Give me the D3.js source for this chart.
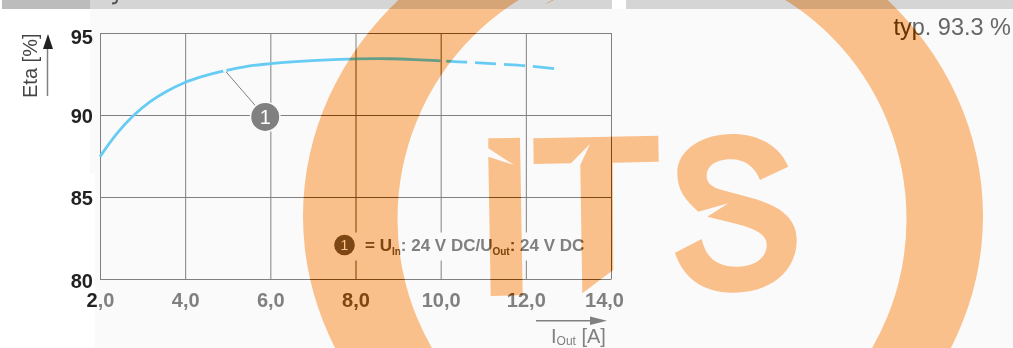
<!DOCTYPE html>
<html>
  <head>
    <title>Efficiency curve</title>
    <script src="https://d3js.org/d3.v7.min.js"></script>
    <style>
      body {
        margin: 0;
        background: #fff;
      }
      svg {
        display: block;
        font-family: "Liberation Sans", Arial, sans-serif;
      }
      .tick line,
      .domain {
        stroke: #808080;
      }
      .tick text {
        font-size: 20px;
        font-weight: bold;
        font-family: "Liberation Sans", Arial, sans-serif;
      }
    </style>
  </head>
  <body>
    <div id="chart"></div>

    <script>
      // Values
      const xTicks = [2, 4, 6, 8, 10, 12, 14];
      const xTickLabels = ["2,0", "4,0", "6,0", "8,0", "10,0", "12,0", "14,0"];
      const yTicks = [80, 85, 90, 95];

      // load current [A] / efficiency [%]
      const solidCurrent = [2.0, 2.39, 2.78, 3.17, 3.57, 3.98, 4.43, 4.86, 5.45, 6.0, 6.69, 7.63, 8.0, 8.8, 9.4, 10.0];
      const solidEta = [87.46, 88.85, 89.95, 90.8, 91.45, 91.97, 92.37, 92.66, 92.97, 93.13, 93.27, 93.39, 93.42, 93.43, 93.38, 93.3];
      const dashedCurrent = [10.13, 10.6, 11.2, 12.0, 12.7];
      const dashedEta = [93.28, 93.22, 93.13, 93.0, 92.82];

      const calloutPoint = [4.93, 92.72];
      const calloutBadge = [5.88, 89.88];

      const width = 1013;
      const height = 348;
      const plot = { left: 100, right: 611, top: 33, bottom: 279 };

      const x = d3.scaleLinear().domain([2, 14]).range([plot.left, plot.right]);
      const y = d3.scaleLinear().domain([80, 95]).range([plot.bottom, plot.top]);

      const svg = d3
        .select("#chart")
        .append("svg")
        .attr("width", width)
        .attr("height", height);

      // Watermark outline: ring and the three letters
      function ellipsePath(cx, cy, rx, ry) {
        return (
          `M${cx - rx},${cy}A${rx},${ry} 0 1 0 ${cx + rx},${cy}` +
          `A${rx},${ry} 0 1 0 ${cx - rx},${cy}Z`
        );
      }
      const letterI =
        "M488.3,138.3L520,137.7L522.7,295L490.7,296L488.3,156.7L514,165L488.3,148.3Z";
      const letterT =
        "M533.3,138.3L658.3,135.7L658.7,161.7L612.7,162.7L613.3,270L582.3,293.3L580.3,165L590,144L571,163.3L533.7,164Z";
      const letterS =
        "M788.3,166.7L760,180C755,167 745,159.3 731,159.3C716,159.3 706.7,166 706.7,176" +
        "C706.7,184 713,187.5 722,190L748,197C775,204 796.7,215 796.7,240" +
        "C796.7,270 772,292.7 733,292.7C700,292.7 682,275 675,252.7L701.7,239" +
        "C706,258 717,266.7 737,266.7C756,266.7 766.7,257 766.7,245" +
        "C766.7,233 752,228 735,223.5L707.3,216.7L728.3,203.3L698.3,211.7" +
        "C685,200 677.3,190 677.3,173C677.3,148 705,134 732,134C760,134 780,147 788.3,166.7Z";
      const sliver = "M545,4L552,0L554,0L548,3Z";
      const watermark =
        ellipsePath(643, 216, 340, 311) +
        ellipsePath(652, 219, 254.5, 257) +
        letterI + letterT + letterS + sliver;

      const defs = svg.append("defs");
      defs
        .append("clipPath")
        .attr("id", "wmClip")
        .append("path")
        .attr("d", watermark)
        .attr("clip-rule", "evenodd");
      // darkens the ink where it sits under the orange, page colour stays neutral
      defs
        .append("filter")
        .attr("id", "burn")
        .attr("color-interpolation-filters", "sRGB")
        .append("feColorMatrix")
        .attr("type", "matrix")
        .attr(
          "values",
          "0.04 0 0 0 0.961  0 0.58 0 0 0.4316  0 0 1.48 0 -0.4504  0 0 0 1 0"
        );

      // Page background and the cut off header bars
      svg.append("rect").attr("x", 90).attr("y", 9).attr("width", width - 90).attr("height", 165).attr("fill", "#fafafa");
      svg.append("rect").attr("x", 95).attr("y", 174).attr("width", width - 95).attr("height", 174).attr("fill", "#fafafa");
      svg.append("rect").attr("x", 2).attr("y", 0).attr("width", 88).attr("height", 9).attr("fill", "#bcbcbc");
      svg.append("rect").attr("x", 90).attr("y", 0).attr("width", 522).attr("height", 9).attr("fill", "#d5d5d5");
      svg.append("rect").attr("x", 626).attr("y", 0).attr("width", 387).attr("height", 9).attr("fill", "#d5d5d5");
      svg
        .append("path")
        .attr("d", "M117,0C117,3 115,3.5 112,3.5")
        .attr("fill", "none")
        .attr("stroke", "#555")
        .attr("stroke-width", 2);

      const ink = svg.append("g").attr("id", "ink");

      // Axes double as the grid
      const yAxis = ink
        .append("g")
        .attr("transform", `translate(${plot.left},0)`)
        .call(
          d3
            .axisLeft(y)
            .tickValues(yTicks)
            .tickSizeInner(-(plot.right - plot.left))
            .tickSizeOuter(0)
            .tickPadding(7)
        );
      yAxis
        .selectAll(".tick text")
        .attr("fill", "#222")
        .attr("dy", (d) => (d === 95 ? "0.53em" : d === 80 ? "0.4em" : "0.38em"));

      const xAxis = ink
        .append("g")
        .attr("transform", `translate(0,${plot.bottom})`)
        .call(
          d3
            .axisBottom(x)
            .tickValues(xTicks)
            .tickFormat((d, i) => xTickLabels[i])
            .tickSizeInner(-(plot.bottom - plot.top))
            .tickSizeOuter(0)
            .tickPadding(13.5)
        );
      xAxis
        .selectAll(".tick text")
        .attr("fill", "#808080")
        .attr("dx", (d) => (d === 14 ? -7 : 0));
      // the "2" of the first tick is printed dark
      xAxis
        .selectAll(".tick text")
        .filter((d) => d === 2)
        .text(null)
        .call((t) => {
          t.append("tspan").attr("fill", "#222").text(xTickLabels[0][0]);
          t.append("tspan").text(xTickLabels[0].slice(1));
        });

      // Axis titles with arrows
      ink
        .append("text")
        .attr("transform", "translate(36.5,98) rotate(-90)")
        .attr("font-size", 20)
        .attr("fill", "#444")
        .text("Eta [%]");
      ink
        .append("line")
        .attr("x1", 47.5)
        .attr("x2", 47.5)
        .attr("y1", 96)
        .attr("y2", 48)
        .attr("stroke", "#808080")
        .attr("stroke-width", 1.5);
      ink.append("path").attr("d", "M48,34L53,49L43,49Z").attr("fill", "#222");

      ink
        .append("line")
        .attr("x1", 536)
        .attr("x2", 592)
        .attr("y1", 320.7)
        .attr("y2", 320.7)
        .attr("stroke", "#808080")
        .attr("stroke-width", 1.5);
      ink.append("path").attr("d", "M590,316.5L607,320.7L590,325Z").attr("fill", "#808080");

      const xTitle = ink
        .append("text")
        .attr("x", 551)
        .attr("y", 343)
        .attr("font-size", 20)
        .attr("fill", "#808080");
      xTitle.append("tspan").text("I");
      xTitle.append("tspan").attr("font-size", 12).attr("dy", 2).text("Out");
      xTitle.append("tspan").attr("dy", -2).text(" [A]");

      ink
        .append("text")
        .attr("x", 1011)
        .attr("y", 35)
        .attr("text-anchor", "end")
        .attr("font-size", 23.5)
        .attr("fill", "#666")
        .text("typ. 93.3 %");

      // Legend sits on a patch that interrupts the grid
      ink.append("rect").attr("x", 332).attr("y", 232.5).attr("width", 258).attr("height", 28).attr("fill", "#fafafa");
      ink.append("circle").attr("cx", 344.5).attr("cy", 245).attr("r", 10.3).attr("fill", "#808080");
      ink
        .append("text")
        .attr("x", 344.5)
        .attr("y", 250)
        .attr("text-anchor", "middle")
        .attr("font-size", 14)
        .attr("fill", "#fff")
        .text("1");

      const legend = ink
        .append("text")
        .attr("x", 365)
        .attr("y", 251)
        .attr("font-size", 17)
        .attr("font-weight", "bold")
        .attr("fill", "#808080");
      legend.append("tspan").text("= U");
      legend.append("tspan").attr("font-size", 10).attr("dy", 4).text("In");
      legend.append("tspan").attr("dy", -4).text(": 24 V DC/U");
      legend.append("tspan").attr("font-size", 10).attr("dy", 4).text("Out");
      legend.append("tspan").attr("dy", -4).text(": 24 V DC");

      // Callout badge
      ink
        .append("line")
        .attr("x1", x(calloutPoint[0]))
        .attr("y1", y(calloutPoint[1]))
        .attr("x2", x(calloutBadge[0]))
        .attr("y2", y(calloutBadge[1]))
        .attr("stroke", "#808080")
        .attr("stroke-width", 1);
      ink
        .append("circle")
        .attr("cx", x(calloutBadge[0]))
        .attr("cy", y(calloutBadge[1]))
        .attr("r", 14.7)
        .attr("fill", "#808080")
        .attr("stroke", "#fafafa")
        .attr("stroke-width", 1.5);
      ink
        .append("text")
        .attr("x", x(calloutBadge[0]))
        .attr("y", y(calloutBadge[1]) + 7)
        .attr("text-anchor", "middle")
        .attr("font-size", 20)
        .attr("fill", "#fff")
        .text("1");

      // Efficiency curve, dashed past the rated current
      const line = d3
        .line()
        .x((d) => x(d[0]))
        .y((d) => y(d[1]))
        .curve(d3.curveCatmullRom);

      const curve = svg.append("g").attr("fill", "none").attr("stroke", "#66ccf3").attr("stroke-width", 2.8);
      curve.append("path").attr("d", line(d3.zip(solidCurrent, solidEta)));
      curve
        .append("path")
        .attr("d", line(d3.zip(dashedCurrent, dashedEta)))
        .attr("stroke-dasharray", "21 8");
      // small gap in the curve where the callout line starts
      svg
        .append("circle")
        .attr("cx", x(calloutPoint[0]))
        .attr("cy", y(calloutPoint[1]))
        .attr("r", 1.8)
        .attr("fill", "#fafafa");

      // Watermark over everything, then the darkening pass of the ink under it
      svg
        .append("path")
        .attr("d", watermark)
        .attr("fill", "#ffc48e")
        .attr("fill-rule", "evenodd")
        .style("mix-blend-mode", "multiply");
      svg
        .append("g")
        .attr("clip-path", "url(#wmClip)")
        .style("mix-blend-mode", "multiply")
        .append("use")
        .attr("href", "#ink")
        .attr("filter", "url(#burn)");
    </script>
  </body>
</html>
